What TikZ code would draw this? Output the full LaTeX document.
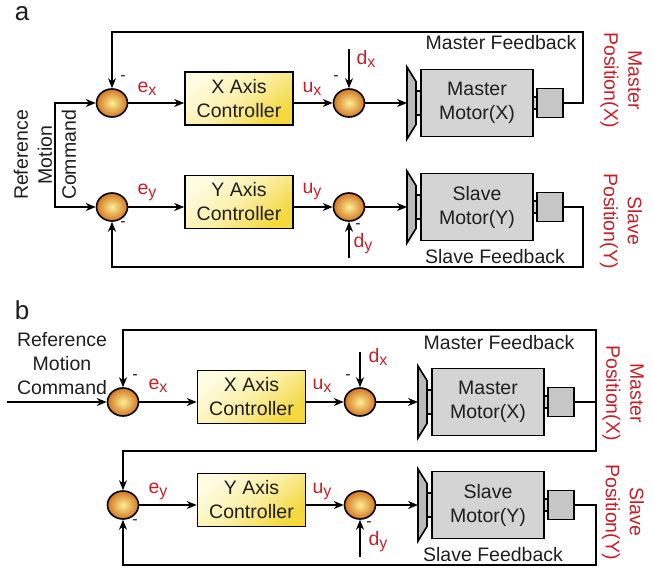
\documentclass[tikz,border=0pt]{standalone}
\usepackage{fontspec}
\setmainfont{Liberation Sans}
\usetikzlibrary{arrows.meta,shapes.geometric}
\definecolor{lblred}{RGB}{196,32,40}
\definecolor{sumin}{RGB}{252,240,150}
\definecolor{sumout}{RGB}{210,118,32}
\definecolor{gearfill}{RGB}{185,185,185}
\definecolor{motfill}{RGB}{212,212,212}
\definecolor{sensfill}{RGB}{198,198,198}
\definecolor{txt}{RGB}{30,30,30}
\definecolor{ctrltop}{RGB}{255,252,225}
\definecolor{ctrlbot}{RGB}{244,216,60}
\newcommand\subl[2]{#1\raisebox{-3pt}{\fontsize{16}{16}\selectfont #2}}
\tikzset{
  motorunit/.pic={
    \draw[fill=gearfill] (0,-36) -- (9,-21.5) -- (9,21.5) -- (0,36) -- cycle;
    \draw[fill=motfill] (9,-12) rectangle (14,12);
    \node[motorbox] (-motor) at (70,0) {#1};
    \draw[fill=motfill] (126,-6) rectangle (130,6);
    \node[sensorbox] (-sensor) at (143,0) {};
    \coordinate (-in) at (0,0);
  }
}
\begin{document}
\begin{tikzpicture}[x=1pt,y=-1pt,line width=1.6pt,
  every node/.style={font=\fontsize{19.5}{24}\selectfont,text=txt},
  arr/.style={-{Stealth[length=10pt,width=8pt]}},
  arr2/.style={{Stealth[length=10pt,width=8pt]}-{Stealth[length=10pt,width=8pt]}},
  sumj/.style={ellipse,draw,minimum width=31pt,minimum height=28pt,inner sep=0pt,inner color=sumin,outer color=sumout},
  ctrl/.style={draw,rectangle,minimum width=108pt,minimum height=53pt,inner sep=0pt,align=center,
    top color=ctrltop,bottom color=ctrlbot,middle color=ctrltop!65!ctrlbot,shading angle=40},
  motorbox/.style={draw,rectangle,fill=motfill,minimum width=112pt,minimum height=67pt,inner sep=0pt,align=center},
  sensorbox/.style={draw,rectangle,fill=sensfill,minimum width=26pt,minimum height=29pt,inner sep=0pt},
  lbl/.style={text=lblred,inner sep=0pt},
  sgn/.style={font=\fontsize{16}{16}\selectfont,inner sep=0pt},
  panel/.style={font=\fontsize{26}{26}\selectfont,inner sep=0pt}]
\useasboundingbox (0,0) rectangle (653,568);

% ================= panel a =================
\node[panel] (pa) at (22,14) {a};
\node[sumj] (j1a) at (112,103) {};
\node[sumj] (j2a) at (349,103) {};
\node[sumj] (j3a) at (112,207) {};
\node[sumj] (j4a) at (349,207) {};
\node[ctrl] (xa) at (239,98.5) {X Axis\\Controller};
\node[ctrl] (ya) at (239,202) {Y Axis\\Controller};
\pic (ma) at (407,103) {motorunit={Master\\Motor(X)}};
\pic (sa) at (407,207) {motorunit={Slave\\Motor(Y)}};

\draw[arr] (j1a) -- (j1a -| xa.west);
\draw[arr] (j1a -| xa.east) -- (j2a);
\draw[arr] (j2a) -- (ma-in);
\draw[arr] (j3a) -- (j3a -| ya.west);
\draw[arr] (j3a -| ya.east) -- (j4a);
\draw[arr] (j4a) -- (sa-in);

\coordinate (fba) at (583,32);
\coordinate (fbsa) at (583,267);
\draw[arr] (ma-sensor.east) -| (fba) -| (j1a.north);
\draw[arr] (sa-sensor.east) -| (fbsa) -| (j3a.south);
\draw[arr2] (j1a.west) -- ++(-41,0) |- (j3a.west);
\coordinate (dxa) at (349,49);
\coordinate (dya) at (349,258);
\draw[arr] (dxa) -- (j2a);
\draw[arr] (dya) -- (j4a);

\node[rotate=90,align=center,inner sep=0pt] (refa) at (45,155) {Reference\\Motion\\Command};
\node[lbl] (exa) at (147,89) {\subl{e}{x}};
\node[lbl] (uxa) at (312,89) {\subl{u}{x}};
\node[lbl] (dxla) at (366,59) {\subl{d}{x}};
\node[lbl] (eya) at (147,192) {\subl{e}{y}};
\node[lbl] (uya) at (312,192) {\subl{u}{y}};
\node[lbl] (dyla) at (363,244) {\subl{d}{y}};
\node[sgn] (s1a) at (123,78) {-};
\node[sgn] (s2a) at (336,78) {-};
\node[sgn] (s3a) at (123,224) {-};
\node[sgn] (s4a) at (358,226) {-};
\node (mfa) at (501,43) {Master Feedback};
\node (sfa) at (495,257) {Slave Feedback};
\node[lbl,rotate=-90,align=center] (mpa) at (621,80) {Master\\Position(X)};
\node[lbl,rotate=-90,align=center] (spa) at (621,221) {Slave\\Position(Y)};

% ================= panel b =================
\node[panel] (pb) at (22,310) {b};
\node[sumj] (j1b) at (123,402) {};
\node[sumj] (j2b) at (360,402) {};
\node[sumj] (j3b) at (123,505) {};
\node[sumj] (j4b) at (360,505) {};
\node[ctrl] (xb) at (251.5,397) {X Axis\\Controller};
\node[ctrl] (yb) at (251.5,500) {Y Axis\\Controller};
\pic (mb) at (418,402) {motorunit={Master\\Motor(X)}};
\pic (sb) at (418,505) {motorunit={Slave\\Motor(Y)}};

\draw[arr] (j1b) -- (j1b -| xb.west);
\draw[arr] (j1b -| xb.east) -- (j2b);
\draw[arr] (j2b) -- (mb-in);
\draw[arr] (j3b) -- (j3b -| yb.west);
\draw[arr] (j3b -| yb.east) -- (j4b);
\draw[arr] (j4b) -- (sb-in);

\coordinate (inb) at (7,402);
\draw[arr] (inb) -- (j1b);
\coordinate (fbt) at (596,330);
\coordinate (fbm) at (596,451);
\coordinate (fbs) at (596,565);
\draw[arr2] (j3b.north) |- (fbm) -- (fbt) -| (j1b.north);
\draw (mb-sensor.east) -- (mb-sensor.east -| fbt);
\draw[arr] (sb-sensor.east) -| (fbs) -| (j3b.south);
\coordinate (dxb) at (360,352);
\coordinate (dyb) at (360,557);
\draw[arr] (dxb) -- (j2b);
\draw[arr] (dyb) -- (j4b);

\node[align=center] (refb) at (62,364) {Reference\\Motion\\Command};
\node[lbl] (exb) at (158,386) {\subl{e}{x}};
\node[lbl] (uxb) at (322,386) {\subl{u}{x}};
\node[lbl] (dxlb) at (378,357) {\subl{d}{x}};
\node[lbl] (eyb) at (158,491) {\subl{e}{y}};
\node[lbl] (uyb) at (322,491) {\subl{u}{y}};
\node[lbl] (dylb) at (378,542) {\subl{d}{y}};
\node[sgn] (s1b) at (135,377) {-};
\node[sgn] (s2b) at (348,377) {-};
\node[sgn] (s3b) at (135,522) {-};
\node[sgn] (s4b) at (369,524) {-};
\node (mfb) at (499,343) {Master Feedback};
\node (sfb) at (493,555) {Slave Feedback};
\node[lbl,rotate=-90,align=center] (mpb) at (623,393) {Master\\Position(X)};
\node[lbl,rotate=-90,align=center] (spb) at (623,512) {Slave\\Position(Y)};
\end{tikzpicture}
\end{document}
